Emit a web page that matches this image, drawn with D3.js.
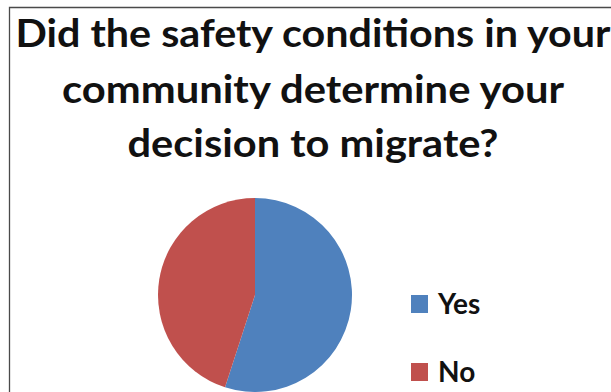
<!DOCTYPE html>
<html>
<head>
<meta charset="utf-8">
<script src="https://cdn.jsdelivr.net/npm/d3@7"></script>
<style>
  html, body { margin: 0; padding: 0; background: #fff; }
  svg { display: block; }
</style>
</head>
<body>
<svg id="chart" width="611" height="392"></svg>
<script>
// Survey answers
const categories = ["Yes", "No"];
const values = [55, 45];
const colors = ["#4F81BD", "#C0504D"];
const titleLines = [
  "Did the safety conditions in your",
  "community determine your",
  "decision to migrate?"
];

const svg = d3.select("#chart");
const W = 611, H = 392;

svg.append("rect").attr("width", W).attr("height", H).attr("fill", "#fff");

// Frame around the chart area
svg.append("path")
  .attr("d", `M9.5,${H + 2} V7.5 H${W + 2}`)
  .attr("fill", "none")
  .attr("stroke", "#4a4a4a")
  .attr("stroke-width", 1.3);

// Title
const titleFont = "Lato, 'Open Sans', sans-serif";
const titleWidths = [595, 502, 371];
const titleBaselines = [47, 103, 157];
svg.append("g").selectAll("text")
  .data(titleLines)
  .join("text")
  .attr("x", 313)
  .attr("y", (d, i) => titleBaselines[i])
  .attr("text-anchor", "middle")
  .attr("font-family", titleFont)
  .attr("font-weight", "bold")
  .attr("font-size", 39)
  .attr("fill", "#111")
  .attr("textLength", (d, i) => titleWidths[i])
  .attr("lengthAdjust", "spacingAndGlyphs")
  .text(d => d);

// Pie
const data = categories.map((c, i) => ({ label: c, value: values[i], color: colors[i] }));
const pie = d3.pie().value(d => d.value).sort(null);
const arc = d3.arc().innerRadius(0).outerRadius(97);
const color = d3.scaleOrdinal().domain(categories).range(colors);

svg.append("g")
  .attr("transform", "translate(255,295)")
  .selectAll("path")
  .data(pie(data))
  .join("path")
  .attr("d", arc)
  .attr("fill", d => color(d.data.label));

// Legend
const legendY = d3.scalePoint().domain(categories).range([304, 372]);
const legend = svg.append("g").selectAll("g")
  .data(categories)
  .join("g")
  .attr("transform", d => `translate(411,${legendY(d)})`);

legend.append("rect")
  .attr("x", 0).attr("y", -9)
  .attr("width", 17).attr("height", 18)
  .attr("fill", d => color(d));

legend.append("text")
  .attr("x", 27)
  .attr("y", 10)
  .attr("font-family", titleFont)
  .attr("font-weight", "bold")
  .attr("font-size", 28)
  .attr("fill", "#111")
  .text(d => d);
</script>
</body>
</html>
